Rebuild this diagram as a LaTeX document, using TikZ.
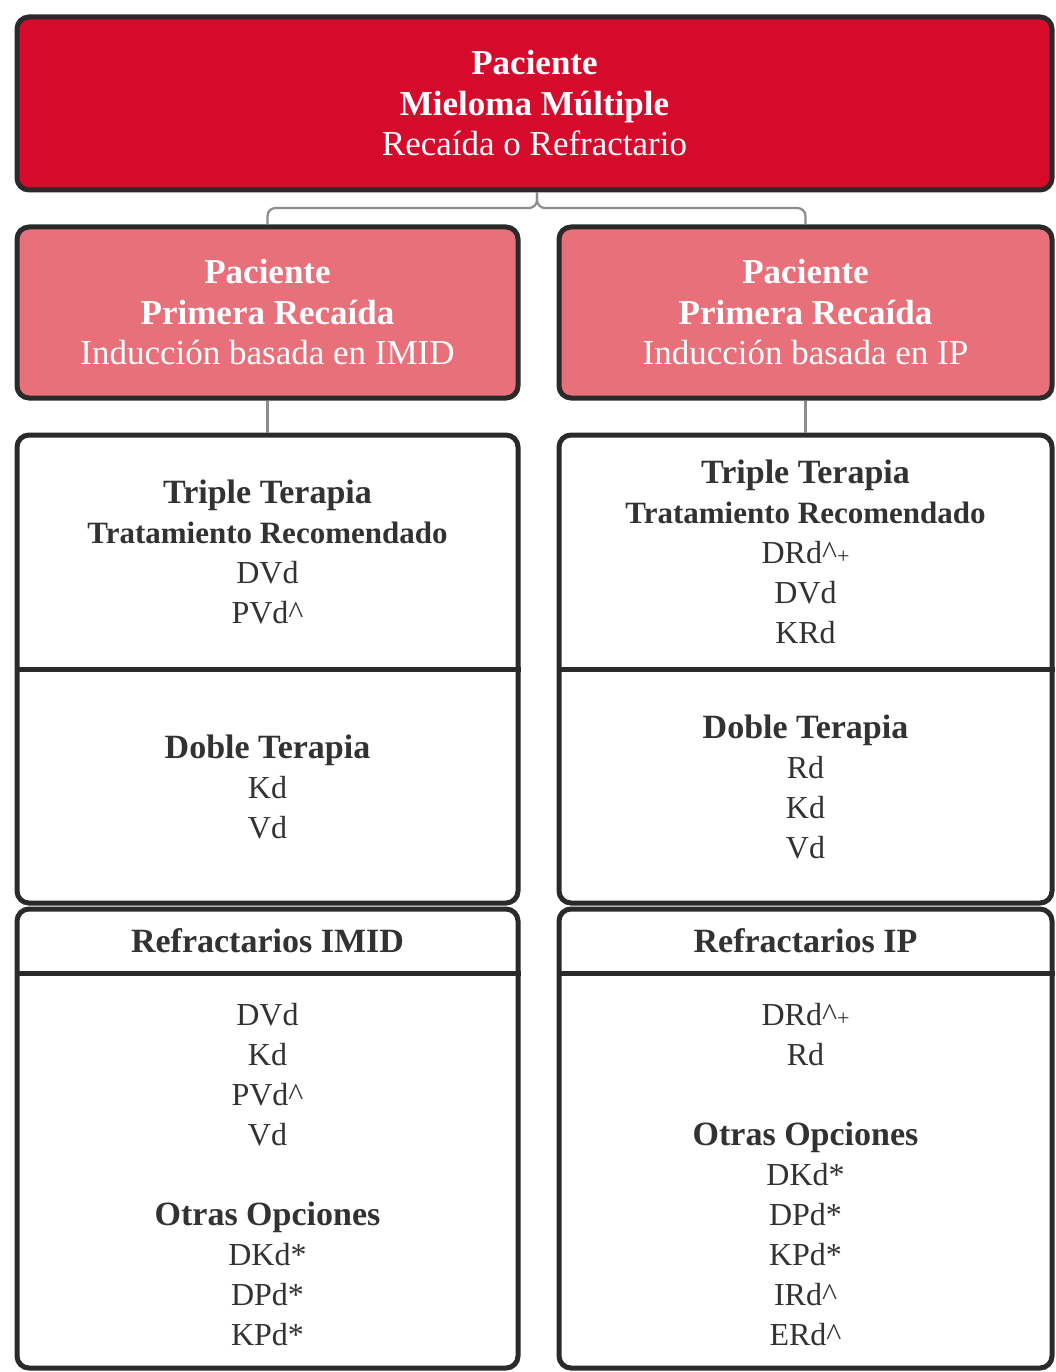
\documentclass[tikz,border=0pt]{standalone}
\usepackage{fontspec}
\setmainfont{Liberation Serif}
\usetikzlibrary{calc}

\definecolor{crimson}{RGB}{214,10,43}
\definecolor{rose}{RGB}{232,112,122}
\definecolor{edge}{RGB}{42,42,42}
\definecolor{ink}{RGB}{50,50,50}
\definecolor{wire}{RGB}{140,140,140}

% line styles inside the text blocks
\newcommand\boxhead[1]{{\bfseries\fontsize{34}{40}\selectfont #1}}
\newcommand\boxsub[1]{{\bfseries\fontsize{31}{40}\selectfont #1}}
\newcommand\smallplus{{\fontsize{22}{40}\selectfont +}}

\begin{document}
\begin{tikzpicture}[x=1pt,y=-1pt,
  panel/.style={draw=edge, line width=5pt, rounded corners=12pt, inner sep=0pt},
  toppanel/.style={panel, fill=crimson, minimum width=1035pt, minimum height=173pt},
  rosepanel/.style={panel, fill=rose, minimum height=171pt},
  whitepanel/.style={panel, fill=white},
  divider/.style={draw=edge, line width=5pt},
  conn/.style={draw=wire, line width=2.2pt, rounded corners=8pt},
  lighttext/.style={text=white, align=center, font=\fontsize{35}{40.5}\selectfont},
  darktext/.style={text=ink, align=center, font=\fontsize{32}{40}\selectfont},
]
\useasboundingbox (0,0) rectangle (1055,1372);

% top panel
\node[toppanel] (top) at (534.5,103.5) {};
\node[lighttext] (toptxt) at (top.center)
  {\textbf{Paciente}\\\textbf{Mieloma Múltiple}\\Recaída o Refractario};

% second row
\node[rosepanel, minimum width=501pt] (pinkL) at (267.5,312.5) {};
\node[rosepanel, minimum width=493pt] (pinkR) at (805.5,312.5) {};
\node[lighttext] (pinkLtxt) at (pinkL.center)
  {\textbf{Paciente}\\\textbf{Primera Recaída}\\Inducción basada en IMID};
\node[lighttext] (pinkRtxt) at (pinkR.center)
  {\textbf{Paciente}\\\textbf{Primera Recaída}\\Inducción basada en IP};

% bracket from the top panel
\coordinate (fork) at (537,208);
\path[conn] (pinkL.north) -- (pinkL.north |- fork) -- (fork) -- (fork |- top.south);
\path[conn] (pinkR.north) -- (pinkR.north |- fork) -- (fork) -- (fork |- top.south);

% therapy panels
\node[whitepanel, minimum width=501pt, minimum height=468pt] (gL1) at (267.5,669) {};
\node[whitepanel, minimum width=493pt, minimum height=468pt] (gR1) at (805.5,669) {};
\node[whitepanel, minimum width=501pt, minimum height=459pt] (gL2) at (267.5,1138.5) {};
\node[whitepanel, minimum width=493pt, minimum height=459pt] (gR2) at (805.5,1138.5) {};

\draw[conn] (pinkL.south) -- (gL1.north);
\draw[conn] (pinkR.south) -- (gR1.north);

% section dividers
\draw[divider] (gL1.west) -- (gL1.east);
\draw[divider] (gR1.west) -- (gR1.east);
\draw[divider] (gL2.west |- 0,973) -- (gL2.east |- 0,973);
\draw[divider] (gR2.west |- 0,973) -- (gR2.east |- 0,973);

% texts, left column
\node[darktext] (triL) at (267.5,552)
  {\boxhead{Triple Terapia}\\\boxsub{Tratamiento Recomendado}\\DVd\\PVd\textasciicircum};
\node[darktext] (dobL) at (267.5,787)
  {\boxhead{Doble Terapia}\\Kd\\Vd};
\node[darktext] (refL) at (267.5,941) {\boxhead{Refractarios IMID}};
\node[darktext] (optL) at (267.5,1175)
  {DVd\\Kd\\PVd\textasciicircum\\Vd\\[40pt]\boxhead{Otras Opciones}\\DKd*\\DPd*\\KPd*};

% texts, right column
\node[darktext] (triR) at (805.5,552)
  {\boxhead{Triple Terapia}\\\boxsub{Tratamiento Recomendado}\\DRd\textasciicircum\smallplus\\DVd\\KRd};
\node[darktext] (dobR) at (805.5,787)
  {\boxhead{Doble Terapia}\\Rd\\Kd\\Vd};
\node[darktext] (refR) at (805.5,941) {\boxhead{Refractarios IP}};
\node[darktext] (optR) at (805.5,1175)
  {DRd\textasciicircum\smallplus\\Rd\\[40pt]\boxhead{Otras Opciones}\\DKd*\\DPd*\\KPd*\\IRd\textasciicircum\\ERd\textasciicircum};
\end{tikzpicture}
\end{document}
